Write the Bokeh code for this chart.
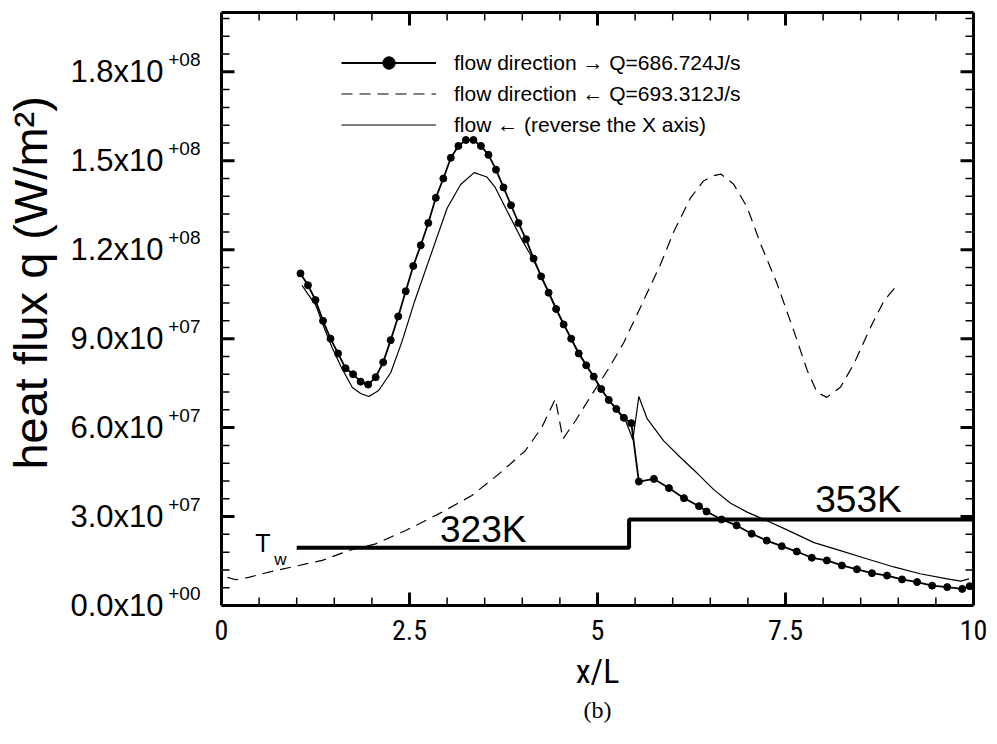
from bokeh.plotting import figure
from bokeh.models import (LinearAxis, FixedTicker, Legend, LegendItem, Title,
                          CustomJSTickFormatter)
from bokeh.core.properties import value
from bokeh.embed import file_html
from bokeh.resources import INLINE

# ---------------- data (heat flux in units of 1e7 W/m^2) ----------------
# flow direction ->  (line with dots)
fwd_x = [1.05, 1.15, 1.25, 1.35, 1.45, 1.55, 1.65, 1.75, 1.85, 1.95,
         2.05, 2.15, 2.25, 2.35, 2.45, 2.55, 2.65, 2.75, 2.85, 2.95,
         3.05, 3.15, 3.25, 3.35, 3.45, 3.55, 3.65, 3.75, 3.85, 3.95,
         4.05, 4.15, 4.25, 4.35, 4.45, 4.55, 4.65, 4.75, 4.85, 4.95,
         5.05, 5.15, 5.25, 5.35, 5.45, 5.55, 5.75, 5.95, 6.15, 6.35,
         6.45, 6.65, 6.85, 7.05, 7.25, 7.45, 7.65, 7.85, 8.05, 8.25,
         8.45, 8.65, 8.85, 9.05, 9.25, 9.45, 9.65, 9.85, 9.95]
fwd_q = [11.2, 10.8, 10.3, 9.6, 9.0, 8.5, 8.0, 7.8, 7.55, 7.45,
         7.7, 8.2, 8.95, 9.75, 10.6, 11.45, 12.15, 12.9, 13.75, 14.4,
         15.1, 15.5, 15.7, 15.7, 15.5, 15.2, 14.7, 14.1, 13.5, 12.9,
         12.35, 11.7, 11.1, 10.55, 10.0, 9.48, 9.0, 8.5, 8.1, 7.72,
         7.3, 6.93, 6.63, 6.33, 6.15, 4.18, 4.27, 3.96, 3.62, 3.35,
         3.17, 2.90, 2.70, 2.42, 2.19, 2.00, 1.82, 1.61, 1.52, 1.35,
         1.22, 1.09, 1.01, 0.88, 0.79, 0.67, 0.62, 0.56, 0.65]

# flow direction <-  (dashed)
bwd_x = [0.08, 0.19, 0.36, 0.67, 1.03, 1.34, 1.69, 2.05, 2.45, 2.89,
         3.33, 3.69, 4.04, 4.26, 4.44, 4.54, 4.71, 4.93, 5.15, 5.35,
         5.57, 5.84, 6.02, 6.24, 6.41, 6.55, 6.64, 6.81, 6.99, 7.17,
         7.39, 7.61, 7.79, 7.92, 8.05, 8.23, 8.41, 8.63, 8.81, 8.96]
bwd_q = [0.95, 0.87, 0.95, 1.15, 1.35, 1.52, 1.85, 2.08, 2.53, 3.09,
         3.71, 4.44, 5.22, 6.01, 6.97, 5.62, 6.24, 7.14, 8.0, 8.87,
         10.05, 11.52, 12.64, 13.76, 14.32, 14.5, 14.55, 14.21, 13.43, 12.19,
         10.84, 9.27, 7.92, 7.19, 7.02, 7.36, 8.15, 9.38, 10.28, 10.73]

# flow <- with the X axis reversed (thin solid)
rev_x = [1.07, 1.15, 1.25, 1.36, 1.47, 1.60, 1.74, 1.85, 1.96, 2.09,
         2.25, 2.40, 2.56, 2.78, 3.00, 3.18, 3.36, 3.53, 3.64, 3.80,
         3.98, 4.15, 4.30, 4.50, 4.70, 4.90, 5.10, 5.30, 5.38, 5.47,
         5.55, 5.66, 5.88, 6.10, 6.33, 6.55, 6.77, 6.99, 7.26, 7.52,
         7.88, 8.23, 8.59, 8.94, 9.29, 9.65, 9.83, 9.94]
rev_q = [10.8, 10.5, 10.15, 9.4, 8.7, 8.0, 7.35, 7.15, 7.05, 7.25,
         7.85, 8.9, 10.2, 11.8, 13.4, 14.2, 14.6, 14.45, 14.1, 13.3,
         12.4, 11.65, 10.85, 9.75, 8.75, 7.9, 7.1, 6.45, 6.2, 5.6,
         7.05, 6.3, 5.55, 5.0, 4.45, 3.9, 3.45, 3.15, 2.85, 2.55,
         2.12, 1.85, 1.57, 1.3, 1.07, 0.9, 0.82, 0.9]

# wall temperature step (drawn on the heat-flux scale)
tw_x = [1.0, 5.42, 5.42, 10.0]
tw_q = [1.95, 1.95, 2.9, 2.9]

y_ticks = [0, 3, 6, 9, 12, 15, 18]
y_tick_mant = ["0.0x10", "3.0x10", "6.0x10", "9.0x10", "1.2x10", "1.5x10", "1.8x10"]
y_tick_exp = ["+00", "+07", "+07", "+07", "+08", "+08", "+08"]
y_minor = [0.6, 1.2, 1.8, 2.4, 3.6, 4.2, 4.8, 5.4, 6.6, 7.2, 7.8,
           8.4, 9.6, 10.2, 10.8, 11.4, 12.6, 13.2, 13.8, 14.4,
           15.6, 16.2, 16.8, 17.4, 18.6, 19.2, 19.8]
x_ticks = [0, 2.5, 5, 7.5, 10]
x_tick_labels = ["0", "2.5", "5", "7.5", "10"]
x_minor = [0.5, 1, 1.5, 2, 3, 3.5, 4, 4.5, 5.5, 6, 6.5, 7, 8,
           8.5, 9, 9.5]

legend_labels = ["flow direction \u2192 Q=686.724J/s",
                 "flow direction \u2190 Q=693.312J/s",
                 "flow \u2190 (reverse the X axis)"]

S = 1e7
def scale(a):
    return [v * S for v in a]

FONT = "Liberation Sans, Arial, Helvetica, sans-serif"
NARROW = "Liberation Sans Narrow, Arial Narrow, Roboto Condensed, Liberation Sans, sans-serif"
X0, X1, Y0, Y1 = 0.0, 10.0, 0.0, 20 * S
W, H = 997, 744
FL, FR, FT, FB = 221, 24, 12, 139          # frame borders in px
PX_X = (X1 - X0) / (W - FL - FR)           # data units per px
PX_Y = (Y1 - Y0) / (H - FT - FB)

p = figure(width=W, height=H, x_range=(X0, X1), y_range=(Y0, Y1),
           output_backend="svg", toolbar_location=None, y_axis_location=None,
           min_border_left=FL, min_border_right=FR, min_border_top=FT,
           min_border_bottom=FB)
p.grid.visible = False
p.outline_line_color = None
p.background_fill_color = "white"
p.border_fill_color = "white"

# curves
r_fwd_line = p.line(fwd_x, scale(fwd_q), line_color="black", line_width=1.8)
r_fwd_dots = p.scatter(fwd_x, scale(fwd_q), marker="circle", size=7,
                       fill_color="black", line_color="black")
r_bwd = p.line(bwd_x, scale(bwd_q), line_color="black", line_width=1.2,
               line_dash="11 7")
r_rev = p.line(rev_x, scale(rev_q), line_color="black", line_width=1.2)
p.line(tw_x, scale(tw_q), line_color="black", line_width=4)

# annotations
p.text(x=[0.45], y=[2.1 * S], text=["T"], text_font=value(FONT),
       text_font_size="25px", text_baseline="middle", text_align="left",
       text_color="black")
p.text(x=[0.70], y=[1.55 * S], text=["w"], text_font=value(FONT),
       text_font_size="17px", text_baseline="middle", text_align="left",
       text_color="black")
p.text(x=[3.48], y=[2.58 * S], text=["323K"], text_font=value(FONT),
       text_font_size="37px", text_baseline="middle", text_align="center",
       text_color="black")
p.text(x=[8.47], y=[3.56 * S], text=["353K"], text_font=value(FONT),
       text_font_size="37px", text_baseline="middle", text_align="center",
       text_color="black")

# inward ticks on all four sides (major 13 px, minor 8 px)
def vticks(xs, lpx, width):
    n = len(xs)
    p.segment(x0=xs, y0=[Y0] * n, x1=xs, y1=[Y0 + lpx * PX_Y] * n,
              line_color="black", line_width=width)
    p.segment(x0=xs, y0=[Y1] * n, x1=xs, y1=[Y1 - lpx * PX_Y] * n,
              line_color="black", line_width=width)

def hticks(ys, lpx, width):
    n = len(ys)
    p.segment(x0=[X0] * n, y0=ys, x1=[X0 + lpx * PX_X] * n, y1=ys,
              line_color="black", line_width=width)
    p.segment(x0=[X1] * n, y0=ys, x1=[X1 - lpx * PX_X] * n, y1=ys,
              line_color="black", line_width=width)

vticks(x_ticks, 13, 3)
vticks(x_minor, 8, 1.5)
hticks(scale(y_ticks), 13, 3)
hticks(scale(y_minor), 8, 1.5)

# axes
def style_axis(ax):
    ax.axis_line_width = 3
    ax.axis_line_color = "black"
    ax.major_tick_in = 0
    ax.major_tick_out = 0
    ax.minor_tick_in = 0
    ax.minor_tick_out = 0

xa = p.xaxis[0]
xa.ticker = FixedTicker(ticks=x_ticks)
style_axis(xa)
xa.major_label_overrides = {t: l for t, l in zip(x_ticks, x_tick_labels)}
xa.major_label_text_font = NARROW
xa.major_label_text_font_size = "28px"
xa.major_label_text_color = "black"
xa.major_label_standoff = 14
xa.axis_label = "x/L"
xa.axis_label_text_font = NARROW
xa.axis_label_text_font_size = "34px"
xa.axis_label_text_font_style = "normal"
xa.axis_label_text_color = "black"
xa.axis_label_standoff = 8

# inner left axis: exponents, placed 12 px above each tick
EXP_SHIFT = 12 * PX_Y
exp_pos = [t * S + EXP_SHIFT for t in y_ticks]
ya_exp = LinearAxis(ticker=FixedTicker(ticks=exp_pos))
style_axis(ya_exp)
ya_exp.major_label_overrides = {t: l for t, l in zip(exp_pos, y_tick_exp)}
ya_exp.major_label_text_font = FONT
ya_exp.major_label_text_font_size = "19px"
ya_exp.major_label_text_color = "black"
ya_exp.major_label_standoff = 21

# outer left axis: mantissas and axis title
ya = LinearAxis(ticker=FixedTicker(ticks=scale(y_ticks)))
style_axis(ya)
ya.axis_line_color = None
ya.major_label_overrides = {t * S: l for t, l in zip(y_ticks, y_tick_mant)}
ya.major_label_text_font = FONT
ya.major_label_text_font_size = "31px"
ya.major_label_text_color = "black"
ya.major_label_standoff = 2
ya.axis_label = "\u00a0\u00a0\u00a0\u00a0heat flux q (W/m\u00b2)"
ya.axis_label_text_font = FONT
ya.axis_label_text_font_size = "47px"
ya.axis_label_text_font_style = "normal"
ya.axis_label_text_color = "black"
ya.axis_label_standoff = 10

p.add_layout(ya_exp, "left")
p.add_layout(ya, "left")

blank = CustomJSTickFormatter(code="return ''")
top = LinearAxis(ticker=FixedTicker(ticks=x_ticks), formatter=blank,
                 major_label_standoff=0)
style_axis(top)
top.major_label_text_font_size = "1px"
right = LinearAxis(ticker=FixedTicker(ticks=scale(y_ticks)), formatter=blank,
                   major_label_standoff=0)
style_axis(right)
right.major_label_text_font_size = "1px"
p.add_layout(top, "above")
p.add_layout(right, "right")

# caption
cap = Title(text="(b)", align="center", text_font="Liberation Serif, Times New Roman, serif",
            text_font_size="24px", text_font_style="normal", text_color="black",
            standoff=2)
p.add_layout(cap, "below")

legend = Legend(items=[
    LegendItem(label=legend_labels[0], renderers=[r_fwd_line, r_fwd_dots]),
    LegendItem(label=legend_labels[1], renderers=[r_bwd]),
    LegendItem(label=legend_labels[2], renderers=[r_rev]),
], location=(120, 465))
legend.background_fill_alpha = 0
legend.border_line_color = None
legend.glyph_width = 95
legend.glyph_height = 31
legend.label_height = 31
legend.spacing = 0
legend.padding = 10
legend.margin = 0
legend.label_standoff = 18
legend.label_text_font = FONT
legend.label_text_font_size = "21px"
legend.label_text_color = "black"
p.add_layout(legend)

open("out.html", "w").write(file_html(p, INLINE))
